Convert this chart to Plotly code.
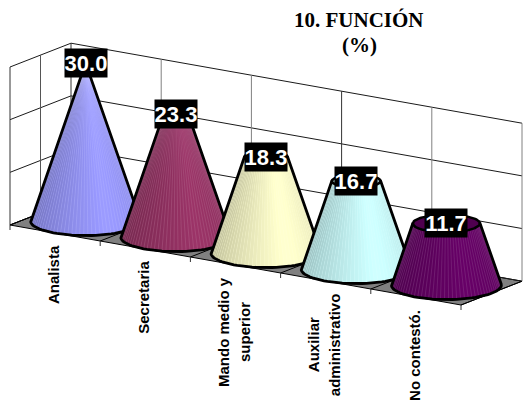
import numpy as np
import plotly.graph_objects as go

# Chart data
categories = ["Analista", "Secretaria", "Mando medio y<br>superior", "Auxiliar<br>administrativo", "No contestó."]
values = [30.0, 23.3, 18.3, 16.7, 11.7]
cone_colors = ["#9999FF", "#993366", "#FFFFCC", "#CCFFFF", "#660066"]
value_ticks = [0, 10, 20, 30]
title_lines = ["10. FUNCIÓN", "(%)"]

WIDTH, HEIGHT = 523, 403
VALUE_MAX = 30.0

# Oblique projection of the 3-D box: category, depth, value -> page position
ORIGIN = np.array([10.0, 225.0])
CAT_STEP = np.array([90.2, 16.0])
DEPTH_STEP = np.array([61.0, -23.8])
VALUE_STEP = np.array([0.0, -158.0 / VALUE_MAX])
BASE_RADIUS = 0.505


def project(cat, depth, value):
    return ORIGIN + np.multiply.outer(cat, CAT_STEP) + np.multiply.outer(depth, DEPTH_STEP) + np.multiply.outer(value, VALUE_STEP)


def ring(index, value, t):
    """Horizontal section of a cone at the given value, sampled at angles t."""
    scale = BASE_RADIUS * (1 - value / VALUE_MAX)
    centre = project(index + 0.5, 0.5, value)
    return (centre
            + scale * np.multiply.outer(np.cos(t), CAT_STEP)
            + scale * np.multiply.outer(np.sin(t), DEPTH_STEP))


def tint(hex_color, factor):
    rgb = [int(hex_color[i:i + 2], 16) for i in (1, 3, 5)]
    return "rgb({},{},{})".format(*[int(min(255, c * factor)) for c in rgb])


fig = go.Figure()


def add_line(points, color="#000000", width=1.0):
    points = np.asarray(points)
    fig.add_trace(go.Scatter(x=points[:, 0], y=points[:, 1], mode="lines",
                             line=dict(color=color, width=width), hoverinfo="skip"))


def add_fill(points, color, line_color=None, line_width=0):
    points = np.asarray(points)
    fig.add_trace(go.Scatter(x=points[:, 0], y=points[:, 1], mode="lines", fill="toself",
                             fillcolor=color,
                             line=dict(color=line_color or color, width=line_width),
                             hoverinfo="skip"))


n_cats = len(categories)

# Floor
floor = [project(0, 0, 0), project(n_cats, 0, 0), project(n_cats, 1, 0), project(0, 1, 0), project(0, 0, 0)]
add_fill(floor, "#808080", "#000000", 1)

# Walls: value gridlines on the left and back walls
for v in value_ticks:
    add_line([project(0, 0, v), project(0, 1, v), project(n_cats, 1, v)], "#1a1a1a", 1)

# Vertical divisions on the back wall
for c, shade in zip(range(n_cats + 1), ["#333333", "#808080", "#808080", "#333333", "#808080", "#808080"]):
    add_line([project(c, 1, 0), project(c, 1, VALUE_MAX)], shade, 1)

# Vertical divisions on the left wall
add_line([project(0, 0, 0), project(0, 0, VALUE_MAX)], "#333333", 1)
add_line([project(0, 0.5, 0), project(0, 0.5, VALUE_MAX)], "#555555", 1)

# Floor divisions and ticks below its front edge
for c in range(n_cats + 1):
    add_line([project(c, 0, 0), project(c, 1, 0)], "#000000", 1)
    start = project(c, 0, 0)
    add_line([start, start + np.array([0, 5])], "#333333", 1)
add_line([project(0, 0.5, 0), project(n_cats, 0.5, 0)], "#000000", 1)

# Cones, cut off at their value, drawn left to right so each overlaps the previous one
for i, (val, col) in enumerate(zip(values, cone_colors)):
    apex = project(i + 0.5, 0.5, VALUE_MAX)
    t_all = np.linspace(0, 2 * np.pi, 721)[:-1]
    base_pts = ring(i, 0, t_all)
    bearing = np.arctan2(base_pts[:, 0] - apex[0], base_pts[:, 1] - apex[1])
    t_right = t_all[np.argmax(bearing)]
    t_left = t_all[np.argmin(bearing)]
    # Walk around the front of the base, from the left tangent to the right tangent
    if t_right > t_left:
        t_right -= 2 * np.pi
    front = np.linspace(t_left, t_right, 46)
    if ring(i, 0, np.array([(t_left + t_right) / 2]))[0, 1] < project(i + 0.5, 0.5, 0)[1]:
        t_right += 2 * np.pi
        front = np.linspace(t_left, t_right, 46)

    edge_base = ring(i, 0, front)
    edge_top = ring(i, val, front)
    add_fill(np.vstack([edge_base, edge_top[::-1], edge_base[:1]]), col)

    # Facets, lit from the front right
    for k in range(len(front) - 1):
        pos = (k + 0.5) / (len(front) - 1)
        light = 0.70 + 0.32 * min(pos / 0.62, 1.0) - 0.12 * max(pos - 0.62, 0) / 0.38
        pair = np.array([front[k], front[k + 1]])
        low = ring(i, 0, pair)
        high = ring(i, val, pair)
        add_fill(np.vstack([low, high[::-1], low[:1]]), tint(col, light))

    # Thin highlights running up the surface
    xs, ys = [], []
    for k in range(1, len(front) - 1):
        pair_low, pair_high = ring(i, 0, front[k:k + 1]), ring(i, val, front[k:k + 1])
        xs += [pair_low[0, 0], pair_high[0, 0], None]
        ys += [pair_low[0, 1], pair_high[0, 1], None]
    fig.add_trace(go.Scatter(x=xs, y=ys, mode="lines",
                             line=dict(width=0.5, color="rgba(255,255,255,0.22)"), hoverinfo="skip"))

    # Cut face of the truncated cones
    if val < VALUE_MAX:
        t_ring = np.linspace(0, 2 * np.pi, 73)
        add_fill(ring(i, val, t_ring), tint(col, 0.78), "#000000", 2.5)

    # Outline of the silhouette
    outline = np.vstack([ring(i, val, front[:1]), edge_base, ring(i, val, front[-1:])])
    add_line(outline, "#000000", 2.8)

annotations = []

# Value labels, centred on each cone's top
for i, val in enumerate(values):
    px, py = project(i + 0.5, 0.5, val)
    annotations.append(dict(x=px, y=py, text=f"<b>{val:.1f}</b>", showarrow=False,
                            font=dict(family="Liberation Sans", size=22, color="#FFFFFF"),
                            bgcolor="#000000", width=42, height=28, borderpad=0,
                            xanchor="center", yanchor="middle", align="center", valign="middle"))

# Category labels, rotated and hanging below the floor's front edge; the two lines
# of a wrapped label are placed separately for their wider leading
LABEL_LENGTHS = [60, 73, 110, 104, 92]
LABEL_GAP = np.array([-2, 12])
LEADING = 21
for i, (cat, length) in enumerate(zip(categories, LABEL_LENGTHS)):
    px, py = project(i + 0.5, 0, 0) + LABEL_GAP
    parts = cat.split("<br>")
    for j, part in enumerate(parts):
        offset = (j - (len(parts) - 1) / 2) * LEADING
        annotations.append(dict(x=px + offset, y=py + length / 2, text=f"<b>{part}</b>", showarrow=False,
                                textangle=-90, font=dict(family="Liberation Sans", size=15, color="#000000"),
                                xanchor="center", yanchor="middle", align="center"))

# Title
for line, y in zip(title_lines, [20, 45]):
    annotations.append(dict(x=359, y=y, text=f"<b>{line}</b>", showarrow=False,
                            font=dict(family="Liberation Serif", size=21, color="#000000"),
                            xanchor="center", yanchor="middle"))

fig.update_layout(
    width=WIDTH, height=HEIGHT, autosize=False,
    margin=dict(l=0, r=0, t=0, b=0),
    paper_bgcolor="#FFFFFF", plot_bgcolor="#FFFFFF",
    showlegend=False,
    xaxis=dict(range=[0, WIDTH], visible=False, fixedrange=True),
    yaxis=dict(range=[HEIGHT, 0], visible=False, fixedrange=True),
    annotations=annotations,
)

fig.write_html("out.html", config=dict(displayModeBar=False))
